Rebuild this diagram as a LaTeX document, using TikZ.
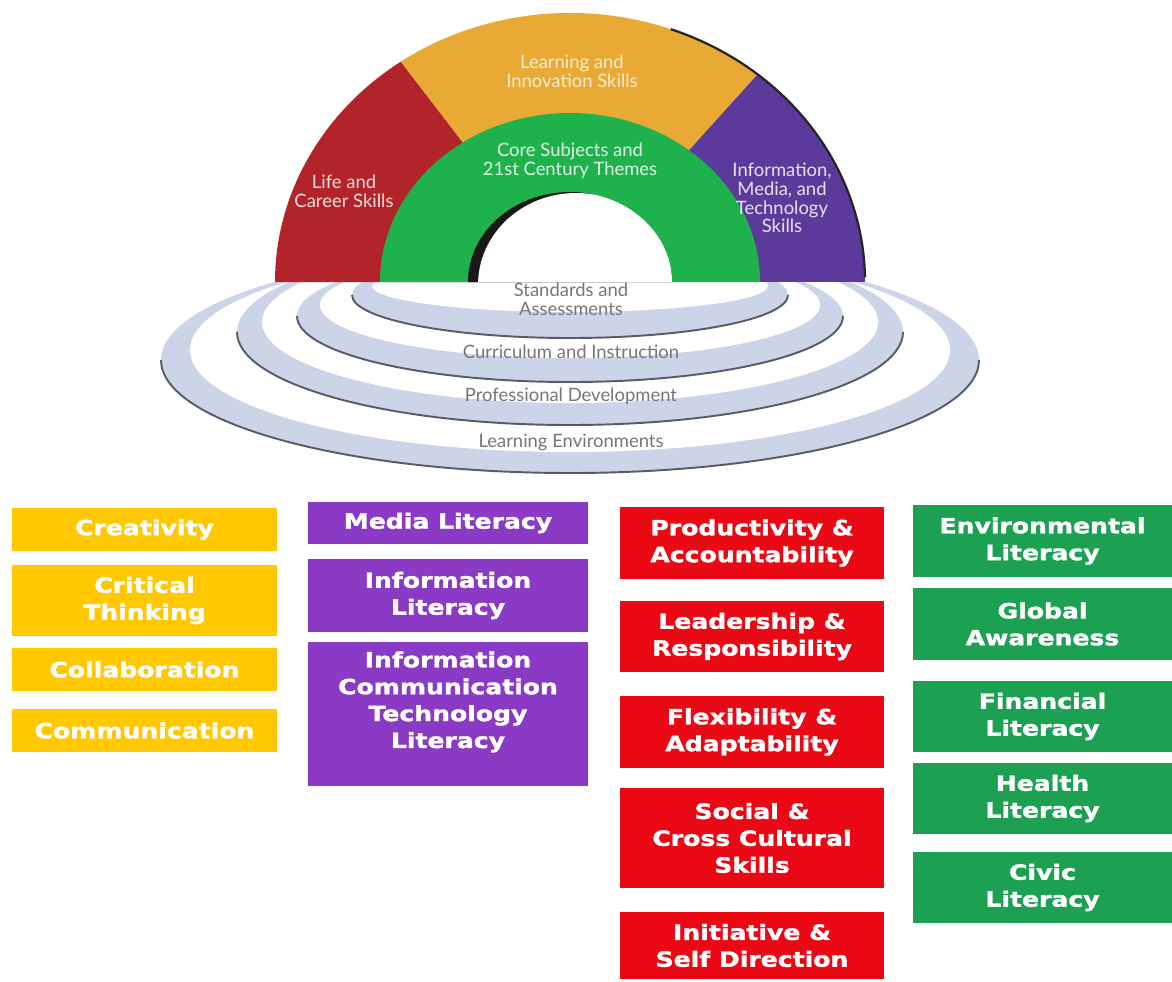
\documentclass[tikz,border=0pt]{standalone}
\usepackage{fontspec}
\setmainfont{Lato}
\newfontfamily\boxfont[BoldFeatures={FakeStretch=1.2, FakeBold=1.6}]{DejaVu Sans}
\definecolor{lifered}{RGB}{178,36,42}
\definecolor{learnyellow}{RGB}{232,170,52}
\definecolor{coregreen}{RGB}{30,177,76}
\definecolor{infopurple}{RGB}{92,58,155}
\definecolor{ringblue}{RGB}{204,213,232}
\definecolor{ringedge}{RGB}{88,92,102}
\definecolor{ringtext}{RGB}{118,118,122}
\definecolor{boxyellow}{RGB}{255,200,0}
\definecolor{boxpurple}{RGB}{138,58,196}
\definecolor{boxred}{RGB}{234,8,20}
\definecolor{boxgreen}{RGB}{28,160,82}
\begin{document}
\begin{tikzpicture}[x=.02cm, y=-.02cm,
    archtext/.style={align=center, font=\fontsize{10.5}{10.6}\selectfont},
    ringlabel/.style={archtext, text=ringtext},
    skillbox/.style={rectangle, inner sep=0pt, text=white, align=center,
      font=\boxfont\bfseries\fontsize{11.9}{15.3}\selectfont},
    ybox/.style={skillbox, fill=boxyellow, minimum width=5.3cm},
    pbox/.style={skillbox, fill=boxpurple, minimum width=5.6cm},
    rbox/.style={skillbox, fill=boxred, minimum width=5.28cm},
    gbox/.style={skillbox, fill=boxgreen, minimum width=5.2cm}]
  \useasboundingbox[fill=white] (0,0) rectangle (1172,981);
  \def\cx{570} \def\base{282}
  \begin{scope}
    \clip (0,\base) rectangle (1172,981);
    \foreach \oy/\oa/\ob/\iy/\ia/\ib in {360/409/113/350/380/102, 332/333/93/322/308/81,
        316/273/66/305/250/53, 295/218/43/286/198/26}{
      \fill[ringblue] (\cx,\oy) ellipse [x radius=\oa, y radius=\ob];
      \fill[white] (\cx,\iy) ellipse [x radius=\ia, y radius=\ib];
      \draw[ringedge, line width=1.1pt] (\cx+\oa,\oy) arc[start angle=0, end angle=180, x radius=\oa, y radius=\ob];
    }
  \end{scope}
  \fill[lifered] (\cx,\base) -- (275,\base) arc[start angle=-180, end angle=-125, x radius=295, y radius=269] -- cycle;
  \fill[learnyellow] (\cx,\base) -- (400.8,61.6) arc[start angle=-125, end angle=-50.5, x radius=295, y radius=269] -- cycle;
  \fill[infopurple] (\cx,\base) -- (757.6,74.4) arc[start angle=-50.5, end angle=0, x radius=295, y radius=269] -- cycle;
  \draw[black!85, line width=1.3pt] (670.9,29.2) arc[start angle=-70, end angle=-1, x radius=295, y radius=269];
  \fill[coregreen] (380,\base) arc[start angle=-180, end angle=0, x radius=190, y radius=169] -- cycle;
  \begin{scope}
    \clip (468,\base) arc[start angle=-180, end angle=0, x radius=102, y radius=90] -- cycle;
    \fill[black!90] (468,\base) arc[start angle=-180, end angle=0, x radius=102, y radius=90] -- cycle;
    \fill[white] (478,285) arc[start angle=-180, end angle=0, x radius=98, y radius=92] -- cycle;
  \end{scope}

  \node[archtext, text=learnyellow!20!white] (learn) at (572,71) {Learning and\\Innovation Skills};
  \node[archtext, text=coregreen!15!white] (core) at (570,161) {Core Subjects and\\21st Century Themes};
  \node[archtext, text=lifered!15!white] (life) at (344,191) {Life and\\Career Skills};
  \node[archtext, text=infopurple!15!white] (info) at (782,198) {Information,\\Media, and\\Technology\\Skills};
  \node[ringlabel] (stand) at (571,299) {Standards and\\Assessments};
  \node[ringlabel] (curric) at (571,352) {Curriculum and Instruction};
  \node[ringlabel] (prof) at (571,396) {Professional Development};
  \node[ringlabel] (envir) at (571,442) {Learning Environments};

  \foreach \yy/\hh/\txt [count=\i] in {529.5/43/Creativity, 600.5/71/{Critical\\Thinking},
      669.5/43/Collaboration, 730.5/43/Communication}
    \node[ybox, minimum height=\hh*.02cm] (yel\i) at (144.5,\yy) {\txt};
  \foreach \yy/\hh/\txt [count=\i] in {523/42/Media Literacy, 595.5/73/{Information\\Literacy},
      714/144/{Information\\Communication\\Technology\\Literacy\\[1pt]\mbox{}}}
    \node[pbox, minimum height=\hh*.02cm] (pur\i) at (448,\yy) {\txt};
  \foreach \yy/\hh/\txt [count=\i] in {543/72/{Productivity \&\\Accountability},
      636.5/71/{Leadership \&\\Responsibility}, 732/72/{Flexibility \&\\Adaptability},
      838/100/{Social \&\\Cross Cultural\\Skills}, 945.5/67/{Initiative \&\\Self Direction}}
    \node[rbox, minimum height=\hh*.02cm] (red\i) at (752,\yy) {\txt};
  \foreach \yy/\hh/\txt [count=\i] in {541/72/{Environmental\\Literacy}, 624/72/{Global\\Awareness},
      716.5/71/{Financial\\Literacy}, 798.5/71/{Health\\Literacy}, 887.5/71/{Civic\\Literacy}}
    \node[gbox, minimum height=\hh*.02cm] (grn\i) at (1042.5,\yy) {\txt};
\end{tikzpicture}
\end{document}
